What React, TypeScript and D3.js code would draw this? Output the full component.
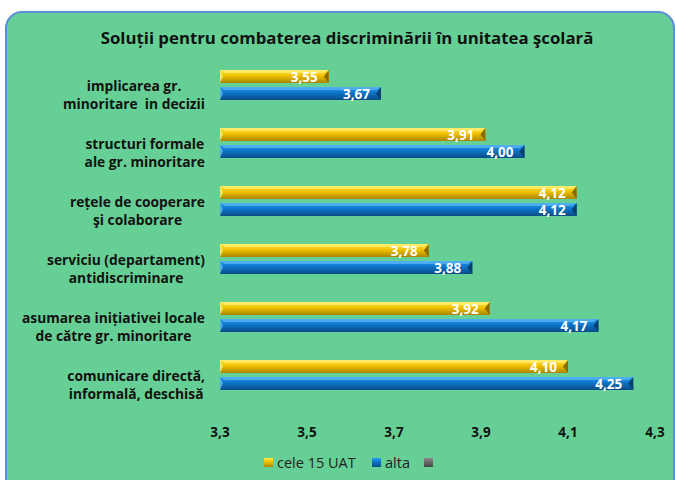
import React from "react";
import * as d3 from "d3";

const categories: string[][] = [
  ["implicarea gr.", "minoritare  in decizii"],
  ["structuri formale", "ale gr. minoritare"],
  ["rețele de cooperare", "şi colaborare"],
  ["serviciu (departament)", "antidiscriminare"],
  ["asumarea inițiativei locale", "de către gr. minoritare"],
  ["comunicare directă,", "informală, deschisă"],
];
const uat15: number[] = [3.55, 3.91, 4.12, 3.78, 3.92, 4.1];
const alta: number[] = [3.67, 4.0, 4.12, 3.88, 4.17, 4.25];
const ticks: number[] = [3.3, 3.5, 3.7, 3.9, 4.1, 4.3];
const seriesNames = ["cele 15 UAT", "alta", ""];

const W = 675, H = 480;
const FONT = "'Open Sans', 'Liberation Sans', sans-serif";
const LABEL_SIZE = 13.8;
const LABEL_FONT = `bold ${LABEL_SIZE}px 'Open Sans'`;

let ctx: CanvasRenderingContext2D | null = null;
function measure(t: string, font: string) {
  if (!ctx) ctx = document.createElement("canvas").getContext("2d");
  if (!ctx) return t.length * 7;
  ctx.font = font;
  return ctx.measureText(t).width;
}

export default function App() {
  const x = d3.scaleLinear().domain([3.3, 4.3]).range([220, 655]);
  const y = d3.scaleBand<number>().domain(d3.range(categories.length)).range([56, 404]);
  const barH = 13;
  const gap = 4;
  const fmt = (v: number) => v.toFixed(2).replace(".", ",");

  const series = [
    { name: "y", values: uat15, grad: "gy", cap: "#8a6d00", top: "#fff07a" },
    { name: "b", values: alta, grad: "gb", cap: "#0b3f6e", top: "#5fb8f5" },
  ];

  const bar = (v: number, yTop: number, s: typeof series[0], key: string) => {
    const x0 = x(3.3);
    const x1 = x(v);
    const bev = 5;
    const h = barH;
    return (
      <g key={key}>
        <rect x={x0} y={yTop} width={x1 - x0} height={h} fill={`url(#${s.grad})`} />
        <polygon points={`${x0},${yTop} ${x1},${yTop} ${x1 - bev},${yTop + 3} ${x0 + bev},${yTop + 3}`} fill={s.top} opacity={0.7} />
        <polygon points={`${x1},${yTop} ${x1},${yTop + h} ${x1 - bev},${yTop + h / 2}`} fill={s.cap} />
        <polygon points={`${x0},${yTop} ${x0},${yTop + h} ${x0 + 3},${yTop + h / 2}`} fill={s.top} opacity={0.8} />
        <text x={x1 - 11} y={yTop + h / 2 + 5} textAnchor="end" fill="#fff" fontSize={13.5} fontWeight="bold" fontFamily={FONT}>
          {fmt(v)}
        </text>
      </g>
    );
  };

  return (
    <svg width={W} height={H} style={{ position: "absolute", left: 0, top: 0 }}>
      <defs>
        <linearGradient id="gy" x1="0" y1="0" x2="0" y2="1">
          <stop offset="0" stopColor="#ffe640" />
          <stop offset="0.45" stopColor="#f0c000" />
          <stop offset="1" stopColor="#a88400" />
        </linearGradient>
        <linearGradient id="gb" x1="0" y1="0" x2="0" y2="1">
          <stop offset="0" stopColor="#2a9cf0" />
          <stop offset="0.45" stopColor="#0d74c8" />
          <stop offset="1" stopColor="#0a4c86" />
        </linearGradient>
        <linearGradient id="gg" x1="0" y1="0" x2="0" y2="1">
          <stop offset="0" stopColor="#8a8a8a" />
          <stop offset="1" stopColor="#444" />
        </linearGradient>
      </defs>
      <rect x={0} y={0} width={W} height={H} fill="#fff" />
      <rect x={6} y={12} width={668} height={500} rx={16} fill="#66cf95" stroke="#5b8fd6" strokeWidth={2} />
      <text x={347} y={44} textAnchor="middle" fontSize={16.8} fontWeight="bold" fontFamily={FONT} fill="#111">
        Soluții pentru combaterea discriminării în unitatea şcolară
      </text>
      {categories.map((lines, i) => {
        const bw = Math.max(...lines.map((l) => measure(l, LABEL_FONT)));
        const cx = 205 - bw / 2;
        const cy = (y(i) as number) + y.bandwidth() / 2;
        return (
          <text key={"c" + i} textAnchor="middle" fontSize={LABEL_SIZE} fontWeight="bold" fontFamily={FONT} fill="#111" style={{ whiteSpace: "pre" }}>
            {lines.map((l, j) => (
              <tspan key={j} x={cx} y={cy + 6 + j * 17.5}>
                {l}
              </tspan>
            ))}
          </text>
        );
      })}
      {categories.map((_, i) => {
        const cy = (y(i) as number) + y.bandwidth() / 2;
        return (
          <g key={"b" + i}>
            {bar(uat15[i], cy - barH - gap / 2, series[0], "y" + i)}
            {bar(alta[i], cy + gap / 2, series[1], "a" + i)}
          </g>
        );
      })}
      {ticks.map((t) => (
        <text key={t} x={x(t)} y={437} textAnchor="middle" fontSize={13.5} fontWeight="bold" fontFamily={FONT} fill="#111">
          {t.toFixed(1).replace(".", ",")}
        </text>
      ))}
      {[
        { x: 264, g: "gy", label: seriesNames[0] },
        { x: 372, g: "gb", label: seriesNames[1] },
        { x: 424, g: "gg", label: seriesNames[2] },
      ].map((l, i) => (
        <g key={"l" + i}>
          <rect x={l.x} y={458} width={9} height={9} fill={`url(#${l.g})`} />
          <text x={l.x + 13} y={468} fontSize={14.5} fontFamily={FONT} fill="#222">
            {l.label}
          </text>
        </g>
      ))}
    </svg>
  );
}
